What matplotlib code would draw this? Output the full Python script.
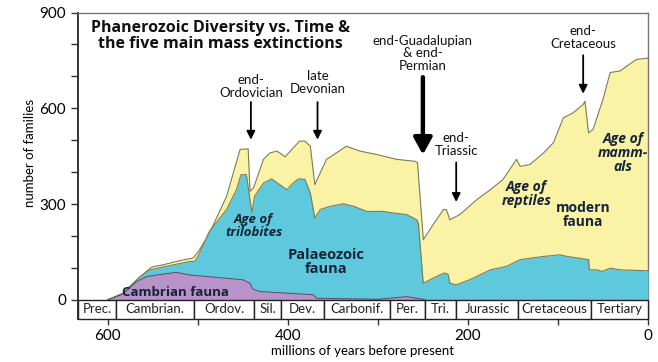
import numpy as np
import matplotlib.pyplot as plt
from matplotlib.patches import Rectangle

plt.rcParams['font.family'] = ['Lato', 'DejaVu Sans']

# total diversity (top of yellow, modern fauna)
total_t = [600, 583, 572, 557, 551, 538, 524, 511, 505, 498, 487, 468, 453, 444, 442, 438,
           427, 420, 412, 403, 394, 387, 381, 375, 370, 357, 335, 320, 301, 279, 259, 256,
           249.5, 240, 227, 224, 220, 209, 190, 175, 161, 146, 142, 131, 116, 105, 94, 83,
           72, 70, 66, 61, 50, 42, 31, 13, 0]
total_v = [0, 21, 52, 89, 103, 110, 120, 128, 131, 157, 209, 324, 471, 473, 340, 351,
           440, 460, 466, 448, 476, 497, 497, 481, 361, 440, 481, 466, 455, 440, 434, 430,
           188, 230, 283, 283, 251, 267, 314, 345, 377, 440, 418, 424, 460, 492, 570, 586,
           612, 622, 523, 534, 628, 712, 717, 753, 757]

# top of palaeozoic fauna (cyan)
palaeo_t = [600, 583, 572, 564, 553, 535, 509, 503, 498, 487, 468, 457, 452, 446, 440, 437,
            427, 418, 409, 401, 394, 388, 381, 375, 370, 364, 353, 338, 327, 312, 294, 283,
            268, 257, 255, 249.6, 235, 226, 222, 220, 213, 198, 175, 157, 142, 116, 98, 90,
            66, 65, 57, 51, 42, 31, 0]
palaeo_v = [0, 20, 48, 73, 94, 105, 120, 121, 147, 215, 283, 345, 392, 392, 273, 324,
            366, 379, 361, 345, 366, 379, 377, 335, 256, 283, 293, 301, 293, 277, 277, 272,
            267, 251, 240, 52, 73, 84, 80, 52, 47, 63, 94, 105, 126, 136, 141, 136,
            126, 94, 94, 89, 99, 94, 91]

# top of cambrian fauna (purple)
cambrian_t = [600, 583, 568, 557, 540, 524, 509, 490, 450, 442, 439, 431, 372, 368, 300, 268, 252, 248]
cambrian_v = [0, 18, 57, 73, 80, 86, 78, 73, 63, 52, 34, 26, 16, 5, 2, 10, 3, 0]

periods = ["Prec.", "Cambrian.", "Ordov.", "Sil.", "Dev.", "Carbonif.", "Per.", "Tri.",
           "Jurassic", "Cretaceous", "Tertiary"]
period_bounds = [633, 591, 504, 437, 408, 360, 287, 248, 213, 144, 63, 0]

# extinction arrows: (label, time, label y, arrow top, arrow tip)
extinctions = [
    ("end-\nOrdovician", 441, 668, 628, 493),
    ("late\nDevonian", 367, 680, 628, 493),
    ("end-Guadalupian\n& end-\nPermian", 250, 772, 706, 446),
    ("end-\nTriassic", 213, 486, 439, 298),
    ("end-\nCretaceous", 72, 821, 775, 637),
]

fig = plt.figure(figsize=(6.58, 3.62), dpi=100)
ax = fig.add_axes([78/658, 1 - 319/362, 570/658, (319 - 12.5)/362])

edge = '#7d7a55'
ax.fill_between(total_t, total_v, 0, color='#faf3a6', lw=0, zorder=1)
ax.plot(total_t, total_v, color=edge, lw=0.8, zorder=2)
ax.fill_between(palaeo_t, palaeo_v, 0, color='#5ec8dc', lw=0, zorder=3)
ax.plot(palaeo_t, palaeo_v, color=edge, lw=0.8, zorder=4)
ax.fill_between(cambrian_t, cambrian_v, 0, color='#b892c8', lw=0, zorder=5)
ax.plot(cambrian_t, cambrian_v, color='#5e4a6a', lw=0.7, zorder=6)

# period bar under the axis
for name, a, b in zip(periods, period_bounds[:-1], period_bounds[1:]):
    ax.add_patch(Rectangle((b, -60), a - b, 60, facecolor='white', edgecolor='#222222',
                           lw=1.0, zorder=7, clip_on=False))
    ax.text((a + b) / 2, -30, name, ha='center', va='center', fontsize=9.5, color='#222222', zorder=8)

for label, t, ly, y0, y1 in extinctions:
    thick = 'Permian' in label
    ax.text(t, ly, label, ha='center', va='center', fontsize=9.5, linespacing=1.05, color='#111111')
    ax.annotate('', xy=(t, y1), xytext=(t, y0),
                arrowprops=dict(arrowstyle='-|>,head_width=%s,head_length=%s' % ((0.55, 1.0) if thick else (0.25, 0.5)),
                                lw=3.2 if thick else 1.3, color='black'), zorder=9)

txt = '#142338'
bold = dict(family=['Open Sans', 'DejaVu Sans'], fontweight='bold', color=txt, ha='center',
            va='center', linespacing=1.0, zorder=9)
ax.text(525, 23, "Cambrian fauna", fontsize=9.5, **bold)
ax.text(438, 232, "Age of\ntrilobites", fontsize=9.5, style='italic', **bold)
ax.text(357, 120, "Palaeozoic\nfauna", fontsize=10.5, **bold)
ax.text(135, 333, "Age of\nreptiles", fontsize=10, style='italic', **bold)
ax.text(72, 265, "modern\nfauna", fontsize=10, **bold)
ax.text(28, 461, "Age of\nmamm-\nals", fontsize=10, style='italic', **bold)

ax.text(475, 825, "Phanerozoic Diversity vs. Time &\nthe five main mass extinctions",
        fontsize=11.5, family=['Open Sans', 'DejaVu Sans'], fontweight='bold', color='#111111',
        ha='center', va='center', linespacing=1.0)

ax.set_xlim(633, 0)
ax.set_ylim(-60, 900)
ax.set_yticks([0, 300, 600, 900])
ax.set_yticks(np.arange(0, 901, 100), minor=True)
ax.set_xticks([600, 400, 200, 0])
ax.set_xticks(np.arange(0, 601, 100), minor=True)
ax.tick_params(axis='both', which='both', direction='out', labelsize=11, color='#333333', width=1)
ax.tick_params(axis='y', which='major', length=5)
ax.tick_params(axis='y', which='minor', length=5)
ax.tick_params(axis='x', which='both', length=4)
ax.spines['bottom'].set_visible(False)
ax.spines['left'].set_bounds(-60, 900)
ax.spines['left'].set_color('#333333')
ax.spines['left'].set_linewidth(1.4)
for s in ['top', 'right']:
    ax.spines[s].set_color('#777777')
    ax.spines[s].set_linewidth(1.0)

ax.set_xlabel("millions of years before present", fontsize=9.5, labelpad=1)
fig.text(30/658, 1 - 153/362, "number of families", rotation=90, ha='center', va='center', fontsize=9.5)

fig.savefig('out.png', dpi=100)
